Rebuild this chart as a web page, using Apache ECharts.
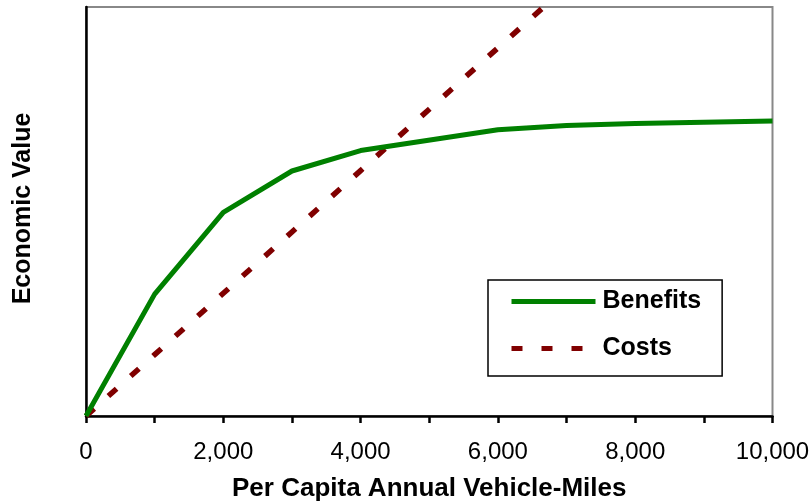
<!DOCTYPE html>
<html>
<head>
<meta charset="utf-8">
<script src="https://cdn.jsdelivr.net/npm/echarts@6/dist/echarts.min.js"></script>
<style>
  html, body { margin: 0; padding: 0; background: #ffffff; }
  #chart { width: 812px; height: 501px; }
</style>
</head>
<body>
<div id="chart"></div>
<script>
// Annual vehicle-miles per capita (x) and relative economic value (y)
const benefitMiles = [0, 1000, 2000, 3000, 4000, 6000, 7000, 8000, 9000, 10000];
const benefitValues = [0, 29.8, 49.8, 59.9, 64.9, 70.0, 71.0, 71.5, 71.8, 72.1];
const costMiles = [0, 1000, 2000, 3000, 4000, 5000, 6000, 7000];
const costValues = [0, 15, 30, 45, 60, 75, 90, 105];
const xTickLabels = ['0', '2,000', '4,000', '6,000', '8,000', '10,000'];

const FONT = '"Liberation Sans", Arial, Helvetica, sans-serif';

const pairs = (xs, ys) => xs.map((x, i) => [x, ys[i]]);

const chart = echarts.init(document.getElementById('chart'), null, { renderer: 'canvas' });

chart.setOption({
  backgroundColor: '#ffffff',
  animation: false,
  grid: {
    left: 86, right: 39.5, top: 7, bottom: 85,
    outerBoundsMode: 'none',
    containLabel: false,
    show: true,
    borderColor: '#888888',
    borderWidth: 2,
    backgroundColor: 'transparent'
  },
  legend: {
    orient: 'vertical',
    left: 488,
    top: 280,
    padding: [9, 21, 15, 21],
    itemGap: 22,
    itemWidth: 84,
    itemHeight: 14,
    borderColor: '#000000',
    borderWidth: 1.5,
    backgroundColor: '#ffffff',
    // line-only keys: hide the marker dot, keep the series stroke
    itemStyle: { opacity: 0 },
    lineStyle: { width: 5 },
    textStyle: {
      fontFamily: FONT,
      fontWeight: 'bold',
      fontSize: 25,
      color: '#000000',
      padding: [0, 0, 0, 2]
    },
    data: ['Benefits', 'Costs']
  },
  xAxis: {
    type: 'value',
    min: 0,
    max: 10000,
    interval: 1000,
    name: 'Per Capita Annual Vehicle-Miles',
    nameLocation: 'middle',
    nameGap: 60,
    nameTextStyle: {
      fontFamily: FONT,
      fontWeight: 'bold',
      fontSize: 26,
      color: '#000000'
    },
    axisLine: { show: true, onZero: false, lineStyle: { color: '#000000', width: 2.5 } },
    axisTick: { show: true, length: 7, lineStyle: { color: '#000000', width: 2.5 } },
    axisLabel: {
      margin: 24,
      fontFamily: FONT,
      fontSize: 24,
      color: '#000000',
      formatter: v => (v % 2000 === 0 ? xTickLabels[v / 2000] : '')
    },
    splitLine: { show: false }
  },
  yAxis: {
    type: 'value',
    min: 0,
    max: 100,
    name: 'Economic Value',
    nameLocation: 'middle',
    nameGap: 50,
    nameTextStyle: {
      fontFamily: FONT,
      fontWeight: 'bold',
      fontSize: 25,
      color: '#000000',
      padding: [0, 0, 0, 6]
    },
    axisLine: { show: true, lineStyle: { color: '#000000', width: 2.5 } },
    axisTick: { show: false },
    axisLabel: { show: false },
    splitLine: { show: false }
  },
  series: [
    {
      name: 'Benefits',
      type: 'line',
      data: pairs(benefitMiles, benefitValues),
      symbol: 'none',
      showSymbol: false,
      clip: true,
      lineStyle: { color: '#008000', width: 5 },
      itemStyle: { color: '#008000' },
      z: 3
    },
    {
      name: 'Costs',
      type: 'line',
      data: pairs(costMiles, costValues),
      symbol: 'none',
      showSymbol: false,
      clip: true,
      lineStyle: { color: '#800000', width: 5.5, type: [11, 19], cap: 'butt' },
      itemStyle: { color: '#800000' },
      z: 2
    }
  ]
});
</script>
</body>
</html>
